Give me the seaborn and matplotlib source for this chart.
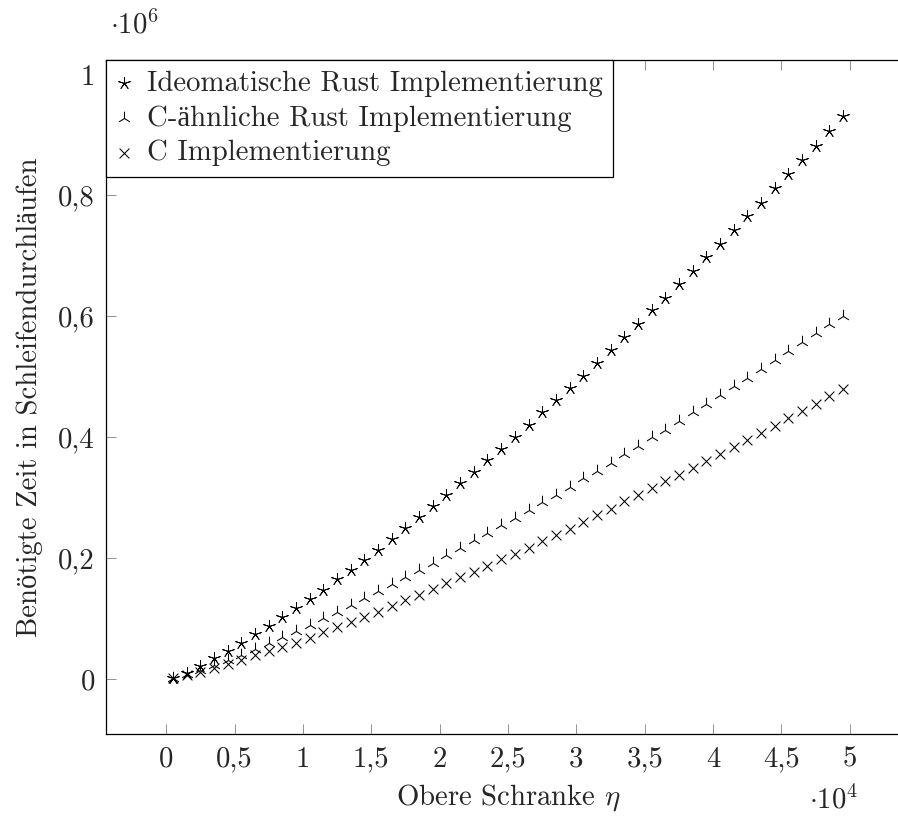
import numpy as np
import pandas as pd
import matplotlib
matplotlib.use("Agg")
import matplotlib.pyplot as plt
import seaborn as sns

# upper bound eta (x axis), 500 ... 49500
eta = list(range(500, 50000, 1000))

# loop iterations, in units of 10^6
rust_idiomatic = [0.002, 0.010, 0.021, 0.034, 0.047, 0.060, 0.074, 0.088, 0.102, 0.117,
                  0.133, 0.148, 0.165, 0.181, 0.197, 0.214, 0.232, 0.249, 0.268, 0.286,
                  0.305, 0.324, 0.342, 0.362, 0.381, 0.400, 0.421, 0.441, 0.461, 0.482,
                  0.502, 0.523, 0.544, 0.566, 0.588, 0.610, 0.631, 0.653, 0.675, 0.698,
                  0.720, 0.743, 0.766, 0.788, 0.812, 0.836, 0.859, 0.882, 0.906, 0.931]
rust_c_like = [0.002, 0.008, 0.015, 0.023, 0.031, 0.040, 0.050, 0.060, 0.070, 0.080,
               0.090, 0.101, 0.111, 0.123, 0.134, 0.145, 0.157, 0.169, 0.180, 0.192,
               0.205, 0.217, 0.230, 0.242, 0.254, 0.267, 0.279, 0.293, 0.305, 0.317,
               0.332, 0.344, 0.358, 0.372, 0.386, 0.400, 0.412, 0.426, 0.441, 0.455,
               0.469, 0.484, 0.498, 0.513, 0.527, 0.542, 0.557, 0.572, 0.587, 0.601]
c_impl = [0.002, 0.007, 0.012, 0.018, 0.025, 0.032, 0.039, 0.046, 0.053, 0.060,
          0.068, 0.077, 0.086, 0.094, 0.102, 0.111, 0.121, 0.130, 0.139, 0.149,
          0.158, 0.168, 0.177, 0.187, 0.198, 0.207, 0.217, 0.228, 0.238, 0.248,
          0.260, 0.271, 0.282, 0.294, 0.305, 0.316, 0.327, 0.338, 0.349, 0.360,
          0.373, 0.384, 0.395, 0.407, 0.418, 0.431, 0.443, 0.455, 0.468, 0.479]

labels = ["Ideomatische Rust Implementierung",
          "C-ähnliche Rust Implementierung",
          "C Implementierung"]

x_ticks = [0, 0.5, 1, 1.5, 2, 2.5, 3, 3.5, 4, 4.5, 5]
y_ticks = [0, 0.2, 0.4, 0.6, 0.8, 1.0]

sns.set_theme(style="ticks")
plt.rcParams['font.family'] = ['cmr10', 'Liberation Serif']
plt.rcParams['mathtext.fontset'] = 'cm'
plt.rcParams['axes.formatter.use_mathtext'] = True
FS = 20.7

fig = plt.figure(figsize=(8.98, 8.18), dpi=100)
ax = fig.add_axes([106 / 898, 84 / 818, (910 - 106) / 898, (734 - 60) / 818])

x_scaled = np.array(eta) / 1e4
# (values, marker, size, line width)
series = [(rust_idiomatic, (5, 2, 0), 75, 0.65),
          (rust_c_like, "2", 95, 0.75),
          (c_impl, "x", 50, 0.75)]
for (vals, mk, size, lw), lab in zip(series, labels):
    sns.scatterplot(x=x_scaled, y=vals, marker=mk, s=size, color="black",
                    linewidth=lw, ax=ax, label=lab)

ax.set_xlim(-0.44, 5.44)
ax.set_ylim(-0.091, 1.024)
ax.set_xticks(x_ticks)
ax.set_yticks(y_ticks)
ax.set_xticklabels([f"{v:g}".replace(".", ",") for v in x_ticks], fontsize=FS)
ax.set_yticklabels([f"{v:g}".replace(".", ",") for v in y_ticks], fontsize=FS)
ax.tick_params(direction="in", length=7, width=0.6, color="0.5",
               top=True, right=True)
ax.tick_params(axis="x", pad=9)
ax.tick_params(axis="y", pad=8)
for sp in ax.spines.values():
    sp.set_color("black")
    sp.set_linewidth(0.9)

ax.set_xlabel(r"Obere Schranke $\eta$", fontsize=FS)
ax.xaxis.set_label_coords(0.5, -0.072)
ax.set_ylabel("Benötigte Zeit in Schleifendurchläufen", fontsize=FS)
ax.yaxis.set_label_coords(-0.078, 0.5)

fig.text(110 / 898, 1 - 25 / 818, r"$\cdot 10^6$", fontsize=FS, va="center", ha="left")
fig.text(858 / 898, 1 - 800 / 818, r"$\cdot 10^4$", fontsize=FS, va="center", ha="right")

leg = ax.legend(loc="upper left", bbox_to_anchor=(0, 1), borderaxespad=0,
                fontsize=FS, frameon=True, fancybox=False, framealpha=1,
                edgecolor="black", handlelength=0.5, handletextpad=0.55,
                labelspacing=0.29, borderpad=0.36)
leg.get_frame().set_linewidth(0.9)

fig.savefig("out.png", dpi=100)
